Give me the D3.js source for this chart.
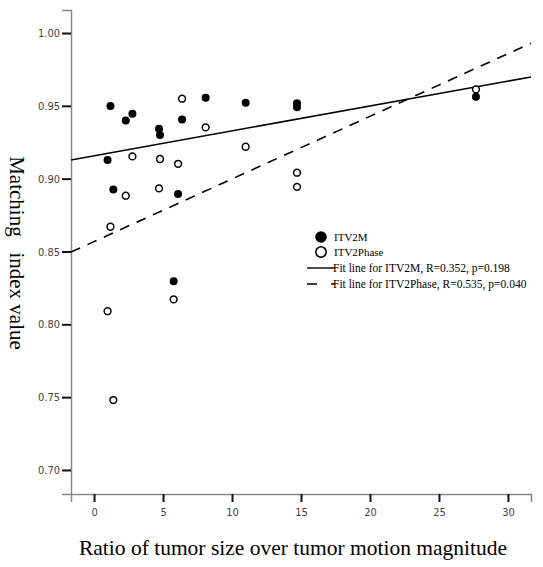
<!DOCTYPE html>
<html><head><meta charset="utf-8">
<script src="https://cdn.jsdelivr.net/npm/d3@7"></script>
<style>body{margin:0;background:#fff}svg{display:block}</style>
</head><body>
<script>
// Data
const ratio      = [0.98, 1.19, 1.40, 2.30, 2.78, 4.71, 4.78, 5.77, 6.09, 6.38, 8.09, 10.99, 14.71, 14.71, 27.68];
const itv2m      = [0.9128, 0.9499, 0.8926, 0.9400, 0.9446, 0.9343, 0.9300, 0.8295, 0.8894, 0.9407, 0.9556, 0.9521, 0.9517, 0.9490, 0.9563];
const itv2phase  = [0.8090, 0.8670, 0.7480, 0.8883, 0.9153, 0.8933, 0.9135, 0.8171, 0.9102, 0.9549, 0.9352, 0.9219, 0.9041, 0.8944, 0.9613];
const fitNames   = ["Fit line for ITV2M, R=0.352, p=0.198", "Fit line for ITV2Phase, R=0.535, p=0.040"];
const fitIntercept = [0.9157, 0.8568];
const fitSlope     = [0.00171, 0.0043];
const xTicks = [0, 5, 10, 15, 20, 25, 30];
const yTicks = [0.70, 0.75, 0.80, 0.85, 0.90, 0.95, 1.00];

const W = 543, H = 567;
const svg = d3.select("body").append("svg").attr("width", W).attr("height", H);

const x = d3.scaleLinear().domain([-1.67, 31.67]).range([71, 531]);
const y = d3.scaleLinear().domain([0.6835, 1.0158]).range([494, 10]);

// axes
const yAxis = d3.axisLeft(y).tickValues(yTicks).tickFormat(d3.format(".2f")).tickSize(9).tickPadding(2);
const gy = svg.append("g").attr("transform", "translate(71,0)").call(yAxis);
const xAxis = d3.axisBottom(x).tickValues(xTicks).tickFormat(d3.format("d")).tickSize(8).tickPadding(6);
const gx = svg.append("g").attr("transform", "translate(0,494)").call(xAxis);
[gx, gy].forEach(g => {
  g.select(".domain").attr("stroke", "#888").attr("stroke-width", 1.5);
  g.selectAll(".tick line").attr("stroke", "#111").attr("stroke-width", 2);
  g.selectAll(".tick text").attr("fill", "#444")
    .style("font-family", "'Liberation Sans Narrow','Arial Narrow','DejaVu Sans Condensed',sans-serif")
    .style("font-size", "11px");
});

// fit lines
const dom = x.domain();
const fits = fitIntercept.map((b, i) => ({b, m: fitSlope[i], dash: i === 0 ? null : "10,8"}));
svg.append("g").selectAll("line").data(fits).join("line")
  .attr("x1", x(dom[0])).attr("x2", x(dom[1]))
  .attr("y1", d => y(d.b + d.m * dom[0])).attr("y2", d => y(d.b + d.m * dom[1]))
  .attr("stroke", "#000").attr("stroke-width", 1.6)
  .attr("stroke-dasharray", d => d.dash);

// points
svg.append("g").selectAll("circle").data(ratio).join("circle")
  .attr("cx", (d) => x(d)).attr("cy", (d, i) => y(itv2phase[i])).attr("r", 3.4)
  .attr("fill", "#fff").attr("stroke", "#000").attr("stroke-width", 1.5);
svg.append("g").selectAll("circle").data(ratio).join("circle")
  .attr("cx", (d) => x(d)).attr("cy", (d, i) => y(itv2m[i])).attr("r", 4)
  .attr("fill", "#000");

// legend
const lg = svg.append("g").style("font-family", "'Liberation Serif','Times New Roman',serif").style("font-size", "11px");
lg.append("circle").attr("cx", 321).attr("cy", 237).attr("r", 5.8).attr("fill", "#000");
lg.append("circle").attr("cx", 321).attr("cy", 252).attr("r", 5.2).attr("fill", "#fff").attr("stroke", "#000").attr("stroke-width", 1.6);
lg.append("text").attr("x", 334).attr("y", 241).text("ITV2M");
lg.append("text").attr("x", 334).attr("y", 256).text("ITV2Phase");
lg.append("line").attr("x1", 307).attr("x2", 335).attr("y1", 268).attr("y2", 268).attr("stroke", "#000").attr("stroke-width", 1.4);
lg.append("line").attr("x1", 307).attr("x2", 335).attr("y1", 284).attr("y2", 284).attr("stroke", "#000").attr("stroke-width", 1.4).attr("stroke-dasharray", "10,14");
lg.selectAll("text.fit").data(fitNames).join("text").attr("class", "fit")
  .attr("x", 333).attr("y", (d, i) => 272 + i * 16).style("font-size", "11.5px").text(d => d);

// titles
svg.append("text").attr("x", 293).attr("y", 555).attr("text-anchor", "middle")
  .style("font-family", "'Liberation Serif','Times New Roman',serif").style("font-size", "21.5px")
  .text("Ratio of tumor size over tumor motion magnitude");
svg.append("text").attr("transform", "translate(10,253) rotate(90)").attr("text-anchor", "middle")
  .style("font-family", "'Liberation Serif','Times New Roman',serif").style("font-size", "21px")
  .style("white-space", "pre")
  .text("Matching   index value");
</script>
</body></html>
